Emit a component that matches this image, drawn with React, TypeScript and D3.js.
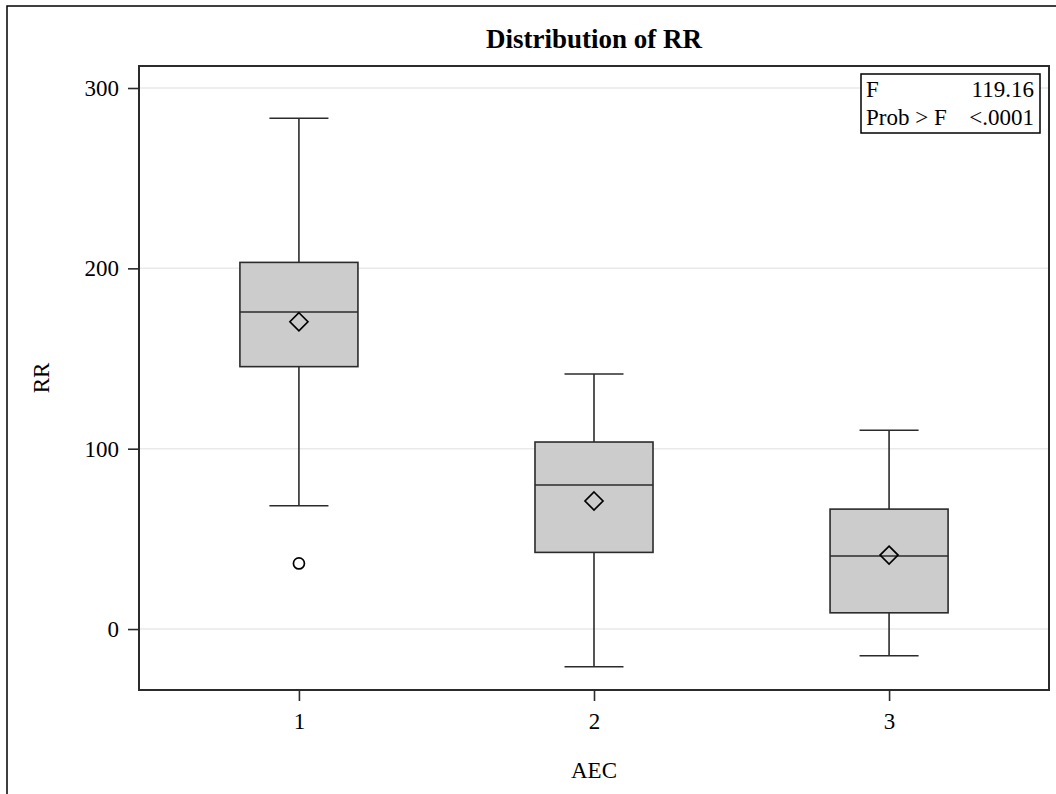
import { useRef, useEffect } from 'react';
import * as d3 from 'd3';

const categories = ['1', '2', '3'];
const q1 = [145.5, 42.5, 9.0];
const median = [175.8, 79.9, 40.5];
const q3 = [203.3, 103.7, 66.5];
const mean = [170.4, 71.0, 41.0];
const whiskerLow = [68.4, -20.9, -14.8];
const whiskerHigh = [283.2, 141.4, 110.2];
const outliers: number[][] = [[36.4], [], []];
const yTicks = [0, 100, 200, 300];
const statRows = [
  ['F', '119.16'],
  ['Prob > F', '<.0001'],
];

const W = 1056;
const H = 794;
const FONT = '"Liberation Serif", "Times New Roman", serif';
const FS = 23;

export default function App() {
  const svgRef = useRef<SVGSVGElement>(null);

  useEffect(() => {
    if (!svgRef.current) return;
    const svg = d3.select(svgRef.current);
    svg.selectAll('*').remove();

    const plot = { left: 139, right: 1049, top: 66, bottom: 690 };

    const x = d3.scalePoint<string>()
      .domain(categories)
      .range([plot.left, plot.right])
      .padding(0.542);
    const step = x.step();
    const boxW = step * 0.4;

    const y = d3.scaleLinear()
      .domain([-33.8, 312.2])
      .range([plot.bottom, plot.top]);

    // outer frame (runs off the page on the right and bottom)
    svg.append('rect')
      .attr('x', 7).attr('y', 6)
      .attr('width', W + 20).attr('height', H + 20)
      .attr('fill', 'none').attr('stroke', '#000').attr('stroke-width', 1.5);

    // title
    svg.append('text')
      .attr('x', (plot.left + plot.right) / 2)
      .attr('y', 48)
      .attr('text-anchor', 'middle')
      .attr('font-family', FONT)
      .attr('font-weight', 'bold')
      .attr('font-size', 27)
      .text('Distribution of RR');

    // grid lines
    svg.append('g')
      .selectAll('line')
      .data(yTicks)
      .enter()
      .append('line')
      .attr('x1', plot.left).attr('x2', plot.right)
      .attr('y1', d => y(d)).attr('y2', d => y(d))
      .attr('stroke', '#e9e9e9').attr('stroke-width', 1.5);

    const data = categories.map((c, i) => ({
      c, q1: q1[i], med: median[i], q3: q3[i], mean: mean[i],
      lo: whiskerLow[i], hi: whiskerHigh[i], out: outliers[i],
    }));

    const stroke = '#2b2b2b';
    const g = svg.append('g');
    data.forEach(d => {
      const cx = x(d.c)!;
      // whiskers
      g.append('line')
        .attr('x1', cx).attr('x2', cx)
        .attr('y1', y(d.hi)).attr('y2', y(d.q3))
        .attr('stroke', stroke).attr('stroke-width', 1.6);
      g.append('line')
        .attr('x1', cx).attr('x2', cx)
        .attr('y1', y(d.q1)).attr('y2', y(d.lo))
        .attr('stroke', stroke).attr('stroke-width', 1.6);
      [d.hi, d.lo].forEach(v => {
        g.append('line')
          .attr('x1', cx - boxW / 4).attr('x2', cx + boxW / 4)
          .attr('y1', y(v)).attr('y2', y(v))
          .attr('stroke', stroke).attr('stroke-width', 1.6);
      });
      // box
      g.append('rect')
        .attr('x', cx - boxW / 2)
        .attr('y', y(d.q3))
        .attr('width', boxW)
        .attr('height', y(d.q1) - y(d.q3))
        .attr('fill', '#cccccc')
        .attr('stroke', stroke).attr('stroke-width', 1.6);
      g.append('line')
        .attr('x1', cx - boxW / 2).attr('x2', cx + boxW / 2)
        .attr('y1', y(d.med)).attr('y2', y(d.med))
        .attr('stroke', stroke).attr('stroke-width', 1.6);
      // mean diamond
      const my = y(d.mean);
      const r = 9;
      g.append('path')
        .attr('d', `M${cx},${my - r}L${cx + r},${my}L${cx},${my + r}L${cx - r},${my}Z`)
        .attr('fill', 'none')
        .attr('stroke', '#000').attr('stroke-width', 1.7);
      // outliers
      d.out.forEach(v => {
        g.append('circle')
          .attr('cx', cx).attr('cy', y(v))
          .attr('r', 5.5)
          .attr('fill', 'none')
          .attr('stroke', '#000').attr('stroke-width', 1.7);
      });
    });

    // plot frame
    svg.append('rect')
      .attr('x', plot.left).attr('y', plot.top)
      .attr('width', plot.right - plot.left)
      .attr('height', plot.bottom - plot.top)
      .attr('fill', 'none')
      .attr('stroke', stroke).attr('stroke-width', 2);

    // y axis
    svg.append('g')
      .attr('transform', `translate(${plot.left},0)`)
      .call(d3.axisLeft(y).tickValues(yTicks).tickSize(11).tickPadding(9))
      .call(a => a.select('.domain').remove())
      .call(a => a.selectAll('.tick line').attr('stroke', stroke).attr('stroke-width', 1.6))
      .call(a => a.selectAll('.tick text')
        .attr('fill', '#000').attr('font-family', FONT).attr('font-size', FS));

    // x axis
    svg.append('g')
      .attr('transform', `translate(0,${plot.bottom})`)
      .call(d3.axisBottom(x).tickSize(11).tickPadding(12))
      .call(a => a.select('.domain').remove())
      .call(a => a.selectAll('.tick line').attr('stroke', stroke).attr('stroke-width', 1.6))
      .call(a => a.selectAll('.tick text')
        .attr('fill', '#000').attr('font-family', FONT).attr('font-size', FS));

    // axis labels
    svg.append('text')
      .attr('x', (plot.left + plot.right) / 2)
      .attr('y', 778)
      .attr('text-anchor', 'middle')
      .attr('font-family', FONT)
      .attr('font-size', FS)
      .text('AEC');
    svg.append('text')
      .attr('transform', `translate(49,${(plot.top + plot.bottom) / 2}) rotate(-90)`)
      .attr('text-anchor', 'middle')
      .attr('font-family', FONT)
      .attr('font-size', FS)
      .text('RR');

    // stats inset
    const inset = { x: 861, y: 74, w: 179, h: 59 };
    svg.append('rect')
      .attr('x', inset.x).attr('y', inset.y)
      .attr('width', inset.w).attr('height', inset.h)
      .attr('fill', '#fff')
      .attr('stroke', '#000').attr('stroke-width', 1.5);
    statRows.forEach((row, i) => {
      const by = inset.y + 23 + i * 28;
      svg.append('text')
        .attr('x', inset.x + 5).attr('y', by)
        .attr('font-family', FONT).attr('font-size', FS)
        .text(row[0]);
      svg.append('text')
        .attr('x', inset.x + inset.w - 6).attr('y', by)
        .attr('text-anchor', 'end')
        .attr('font-family', FONT).attr('font-size', FS)
        .text(row[1]);
    });
  }, []);

  return (
    <svg
      ref={svgRef}
      width={W}
      height={H}
      style={{ position: 'fixed', left: 0, top: 0, background: '#fff' }}
    />
  );
}
